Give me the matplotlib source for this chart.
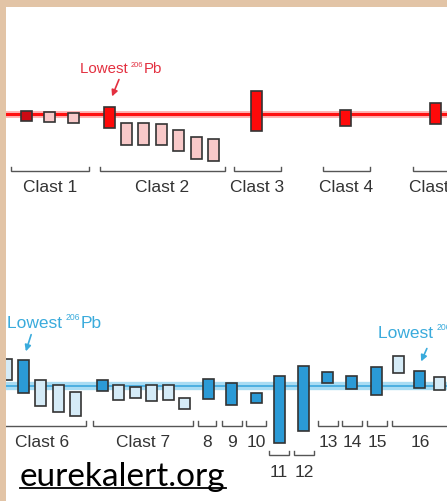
import matplotlib.pyplot as plt
from matplotlib.patches import Rectangle
from matplotlib.lines import Line2D

plt.rcParams['font.family'] = ['Liberation Sans', 'DejaVu Sans']
plt.rcParams['mathtext.fontset'] = 'custom'
plt.rcParams['mathtext.rm'] = 'Liberation Sans'

# top panel (clasts 1-5): sample position, upper / lower value relative to the red reference line
top_x = [26.5, 49.5, 73, 109.5, 126.5, 143.5, 161, 178.5, 196.5, 213, 256.5, 345.5, 435]
top_hi = [3, 2, 1, 7, -9, -9, -10, -16, -23, -25, 23, 4, 11]
top_lo = [-7, -8, -9, -14, -31, -31, -31, -37, -45, -47, -17, -12, -10]
top_kind = ['dark', 'light', 'light', 'main', 'light', 'light', 'light', 'light', 'light', 'light',
            'main', 'main', 'main']
top_groups = ['Clast 1', 'Clast 2', 'Clast 3', 'Clast 4', 'Clast 5']
top_group_start = [11, 100, 234, 323, 413]
top_group_end = [89, 225, 281, 370, 460]

# bottom panel (clasts 6-16), relative to the blue reference line
bot_x = [6.5, 23.5, 40.5, 58, 75, 102.5, 118.5, 135.5, 151.5, 168, 184, 208, 231.5, 256.5,
         279.5, 303.5, 327.5, 351.5, 376, 398.5, 419.5, 439]
bot_hi = [27, 26, 6, 1, -6, 6, 1, -1, 1, 1, -12, 7, 3, -7, 10, 20, 14, 10, 19, 30, 15, 9]
bot_lo = [6, -7, -20, -26, -30, -5, -14, -12, -15, -14, -23, -13, -19, -17, -57, -45, 3, -3,
          -9, 13, -2, -4]
bot_kind = ['light', 'main', 'light', 'light', 'light', 'main', 'light', 'light', 'light',
            'light', 'light', 'main', 'main', 'main', 'main', 'main', 'main', 'main', 'main',
            'light', 'main', 'light']
bot_groups = ['Clast 6', 'Clast 7', '8', '9', '10', '11', '12', '13', '14', '15', '16']
bot_group_start = [-2, 93, 198, 222, 246, 269, 294, 318, 342, 367, 392]
bot_group_end = [86, 193, 216, 242, 266, 289, 314, 338, 362, 387, 448]
bot_group_low = [False, False, False, False, False, True, True, False, False, False, False]

red_fill = {'dark': '#cc0a14', 'main': '#ff0a0a', 'light': '#f8c9c9'}
blue_fill = {'main': '#2b9ad6', 'light': '#d5ebf7'}
edge = '#333333'
label_col = '#333333'

fig = plt.figure(figsize=(4.47, 5.02), dpi=100, facecolor='#e2c4a6')
fig.patches.append(Rectangle((6 / 447, 0), 1, 1 - 8 / 502, transform=fig.transFigure,
                             facecolor='white', edgecolor='none', zorder=-5))

ax1 = fig.add_axes([6 / 447, 0.5, 441 / 447, 0.5])
ax2 = fig.add_axes([6 / 447, 0.0, 441 / 447, 0.5])
ax1.set_xlim(6, 447)
ax1.set_ylim(-136, 115)
ax2.set_xlim(6, 447)
ax2.set_ylim(-115, 136)
for ax in (ax1, ax2):
    ax.set_facecolor('none')
    ax.axis('off')

# reference lines
ax1.axhline(0, color='#ffb3b3', lw=5, zorder=1)
ax1.axhline(0, color='#ff1010', lw=2.2, zorder=2)
ax2.axhline(0, color='#a9dcf3', lw=6, zorder=1)
ax2.axhline(0, color='#45ace0', lw=1.3, zorder=2)

# boxes
h1 = [h - l for h, l in zip(top_hi, top_lo)]
ax1.bar(top_x, h1, bottom=top_lo, width=11, color=[red_fill[k] for k in top_kind],
        edgecolor=edge, linewidth=1.2, zorder=3)
h2 = [h - l for h, l in zip(bot_hi, bot_lo)]
ax2.bar(bot_x, h2, bottom=bot_lo, width=11, color=[blue_fill[k] for k in bot_kind],
        edgecolor=edge, linewidth=1.2, zorder=3)


def bracket(ax, x0, x1, ytop, ybot, text, ytext):
    ax.plot([x0, x0, x1, x1], [ytop, ybot, ybot, ytop], color='#555555', lw=1.0,
            solid_joinstyle='miter', zorder=2)
    ax.text((x0 + x1) / 2, ytext, text, ha='center', va='center', fontsize=12.5,
            color=label_col)


for name, s, e in zip(top_groups, top_group_start, top_group_end):
    bracket(ax1, s, e, -53, -57, name, -73)

for name, s, e, low in zip(bot_groups, bot_group_start, bot_group_end, bot_group_low):
    if low:
        bracket(ax2, s, e, -65, -69, name, -86)
    else:
        bracket(ax2, s, e, -35, -40, name, -56)


def lowest(ax, x, y, color, size):
    # "Lowest 206Pb" with a small superscript mass number
    t = ax.text(x, y, 'Lowest ', color=color, fontsize=size, va='baseline', ha='left')
    fig.canvas.draw()
    bb = t.get_window_extent().transformed(ax.transData.inverted())
    s = ax.text(bb.x1 - 1, y + size * 0.6, '206', color=color, fontsize=size * 0.5,
                va='baseline', ha='left')
    fig.canvas.draw()
    bb2 = s.get_window_extent().transformed(ax.transData.inverted())
    ax.text(bb2.x1, y, 'Pb', color=color, fontsize=size, va='baseline', ha='left')


red_txt = '#e33040'
blue_txt = '#3aabdc'
lowest(ax1, 80, 42, red_txt, 10.8)
ax1.annotate('', xy=(111, 15), xytext=(120, 37),
             arrowprops=dict(arrowstyle='-|>', color=red_txt, lw=1.2, mutation_scale=9))

lowest(ax2, 7, 59, blue_txt, 12.5)
ax2.annotate('', xy=(25, 32), xytext=(32, 54),
             arrowprops=dict(arrowstyle='-|>', color=blue_txt, lw=1.2, mutation_scale=9))
lowest(ax2, 378, 49, blue_txt, 12.5)
ax2.annotate('', xy=(420, 22), xytext=(428, 40),
             arrowprops=dict(arrowstyle='-|>', color=blue_txt, lw=1.2, mutation_scale=9))

# source watermark, underlined
src = fig.text(20 / 447, 1 - 486 / 502, 'eurekalert.org', family='Lato', fontsize=24,
               color='black', ha='left', va='baseline')
fig.canvas.draw()
bb = src.get_window_extent()
uy = 502 - 489
fig.add_artist(Line2D([bb.x0, bb.x1], [uy, uy], transform=None, color='black', lw=1.3))

fig.savefig('out.png', dpi=100, facecolor=fig.get_facecolor())
